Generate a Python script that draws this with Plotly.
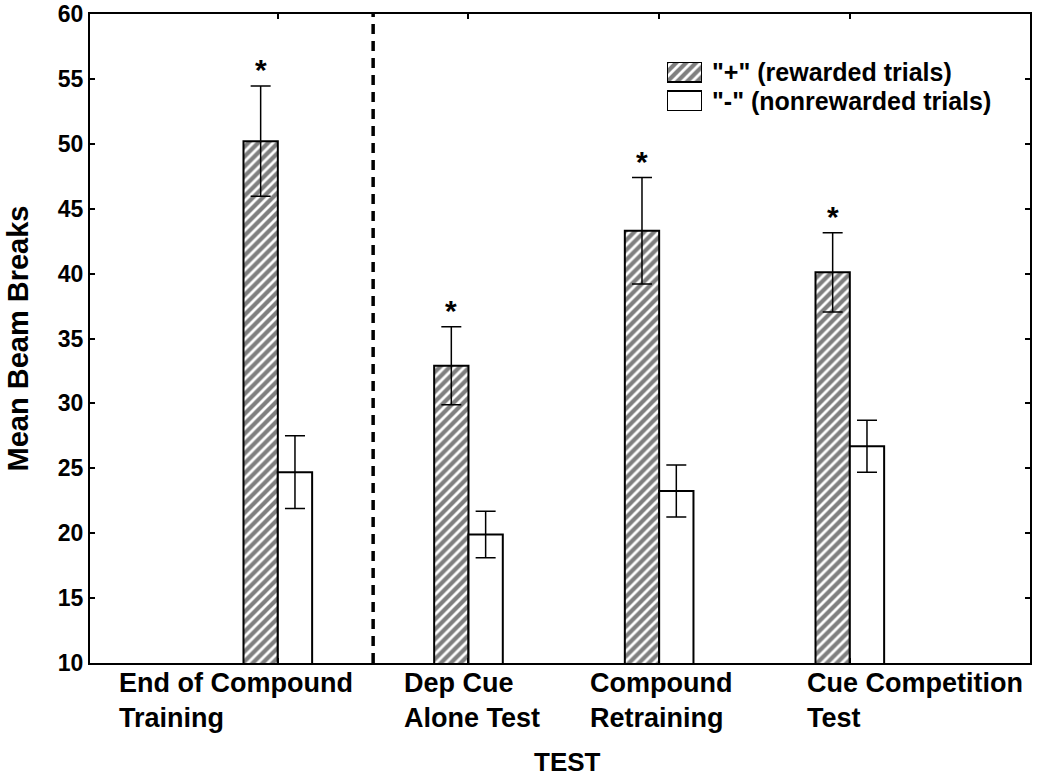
import plotly.graph_objects as go

categories = ["End of Compound<br>Training", "Dep Cue<br>Alone Test", "Compound<br>Retraining", "Cue Competition<br>Test"]
positions = [0, 1, 2, 3]
rewarded = [50.2, 32.9, 43.3, 40.1]
rewarded_se = [4.25, 3.0, 4.1, 3.05]
nonrewarded = [24.7, 19.9, 23.25, 26.7]
nonrewarded_se = [2.8, 1.8, 2.0, 2.0]
significant = [True, True, True, True]
label_x = [-0.845, 0.65, 1.626, 2.763]
y_ticks = [10, 15, 20, 25, 30, 35, 40, 45, 50, 55, 60]
series_names = ['"+" (rewarded trials)', '"-" (nonrewarded trials)']

FONT = "Liberation Sans"
W = 0.18
HATCH = dict(shape="/", fgcolor="black", bgcolor="white", size=7, solidity=0.6)

# plot area on screen: (90,14)-(1030,663)
PL, PT, PW, PH = 90, 14, 940, 649
FW, FH = 1050, 778

fig = go.Figure()
fig.add_trace(go.Bar(
    x=positions, y=rewarded, base=0, width=W, offset=-W, name=series_names[0],
    marker=dict(color="white", line=dict(color="black", width=2), pattern=HATCH),
    error_y=dict(type="data", array=rewarded_se, visible=True, color="black", thickness=1.5, width=10),
    showlegend=False,
))
fig.add_trace(go.Bar(
    x=positions, y=nonrewarded, base=0, width=W, offset=0, name=series_names[1],
    marker=dict(color="white", line=dict(color="black", width=2)),
    error_y=dict(type="data", array=nonrewarded_se, visible=True, color="black", thickness=1.5, width=10),
    showlegend=False,
))

# custom legend swatches (drawn as bars on a small inset axis so the hatch pattern shows)
fig.add_trace(go.Bar(x=[0], y=[20], base=[29], width=1, xaxis="x2", yaxis="y2", showlegend=False,
                     hoverinfo="skip", name=series_names[0],
                     marker=dict(color="white", line=dict(color="black", width=2), pattern=HATCH)))
fig.add_trace(go.Bar(x=[0], y=[20], base=[0], width=1, xaxis="x2", yaxis="y2", showlegend=False,
                     hoverinfo="skip", name=series_names[1],
                     marker=dict(color="white", line=dict(color="black", width=2))))

def px(xs):
    return (xs - PL) / PW

def py(ys):
    return 1 - (ys - PT) / PH

annotations = []
for p, v, e, s in zip(positions, rewarded, rewarded_se, significant):
    if s:
        annotations.append(dict(x=p - W / 2, y=v + e, text="<b>*</b>", showarrow=False,
                                xanchor="center", yanchor="bottom", yshift=-2,
                                font=dict(family=FONT, size=30, color="black")))
for lx, c in zip(label_x, categories):
    annotations.append(dict(x=lx, y=0, yref="paper", text="<b>" + c.replace("<br>", "</b><br><b>") + "</b>",
                            showarrow=False, xanchor="left", yanchor="top", align="left", yshift=-3,
                            font=dict(family=FONT, size=27, color="black")))
annotations.append(dict(x=px(567), xref="paper", y=py(762), yref="paper",
                        text="<b>TEST</b>", showarrow=False, xanchor="center", yanchor="middle",
                        font=dict(family=FONT, size=26, color="black")))
annotations.append(dict(x=px(17), xref="paper", y=0.5, yref="paper", textangle=-90,
                        text="<b>Mean Beam Breaks</b>", showarrow=False, xanchor="center", yanchor="middle",
                        font=dict(family=FONT, size=29, color="black")))
for i, nm in enumerate(series_names):
    annotations.append(dict(x=px(710), xref="paper", y=py(72 + 28.5 * i), yref="paper",
                            text="<b>" + nm + "</b>", showarrow=False, xanchor="left", yanchor="middle",
                            font=dict(family=FONT, size=25, color="black")))

fig.add_shape(type="line", x0=0.5, x1=0.5, y0=0, y1=1, yref="paper", xref="x",
              line=dict(color="black", width=3.5, dash="10px,7px"))

fig.update_layout(
    width=FW, height=FH,
    margin=dict(l=PL, r=FW - PL - PW, t=PT, b=FH - PT - PH),
    paper_bgcolor="white", plot_bgcolor="white",
    barmode="overlay",
    showlegend=False,
    annotations=annotations,
    font=dict(family=FONT, color="black"),
    xaxis=dict(range=[-0.985, 3.945], tickvals=positions, ticktext=["", "", "", ""],
               ticks="inside", ticklen=5, tickcolor="black", tickwidth=1.5,
               showline=True, linecolor="black", linewidth=2, automargin=False,
               mirror="ticks", showgrid=False, zeroline=False),
    yaxis=dict(range=[10, 60], tickvals=y_ticks, ticks="inside", ticklen=5,
               tickcolor="black", tickwidth=1.5, automargin=False, ticklabeloverflow="allow",
               showline=True, linecolor="black", linewidth=2, mirror="ticks", showgrid=False, zeroline=False,
               tickfont=dict(family=FONT, size=23, color="black", weight="bold")),
    xaxis2=dict(domain=[px(667), px(702)], range=[-0.5, 0.5], anchor="y2",
                visible=False, fixedrange=True),
    yaxis2=dict(domain=[py(111), py(62)], range=[0, 49], anchor="x2",
                visible=False, fixedrange=True),
)

# remove the default 8px page margin so the figure sits at the window's top-left corner
fig.write_html("out.html", config={"displayModeBar": False},
               post_script="document.body.style.margin='0px';")
